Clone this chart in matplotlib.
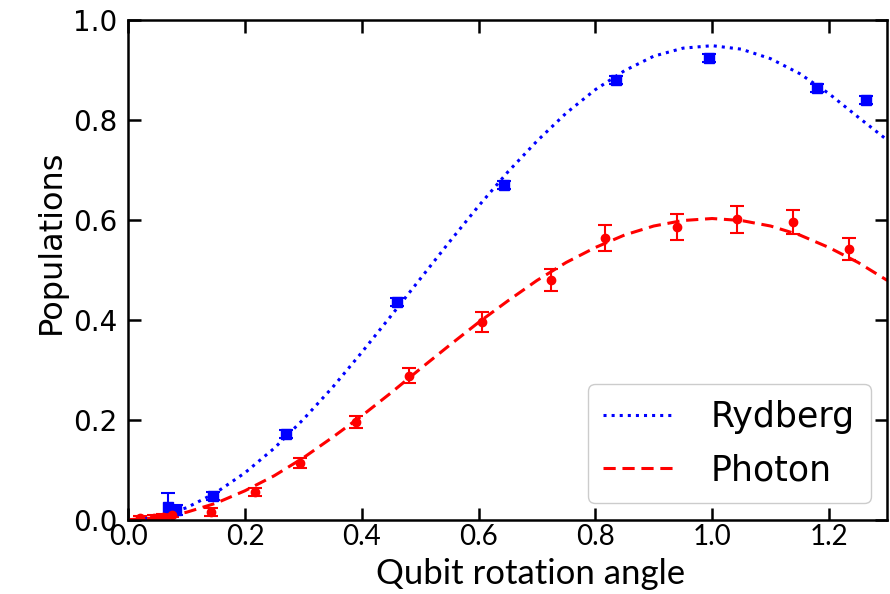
import matplotlib
matplotlib.use("Agg")
import matplotlib.pyplot as plt
import numpy as np

ryd_x = [0.068, 0.082, 0.146, 0.271, 0.460, 0.644, 0.836, 0.994, 1.179, 1.264]
ryd_y = [0.026, 0.020, 0.048, 0.172, 0.435, 0.670, 0.880, 0.924, 0.864, 0.840]
ryd_err = [0.028, 0.010, 0.008, 0.008, 0.008, 0.008, 0.008, 0.008, 0.008, 0.008]

pho_x = [0.020, 0.045, 0.060, 0.075, 0.141, 0.218, 0.295, 0.391, 0.481, 0.606, 0.724, 0.817, 0.939, 1.042, 1.138, 1.234]
pho_y = [0.003, 0.004, 0.006, 0.010, 0.016, 0.056, 0.114, 0.196, 0.288, 0.396, 0.480, 0.564, 0.586, 0.602, 0.596, 0.542]
pho_err = [0.004, 0.005, 0.005, 0.005, 0.008, 0.008, 0.010, 0.012, 0.015, 0.020, 0.022, 0.026, 0.026, 0.027, 0.024, 0.023]

# fitted curves sampled from the figure
fit_x = [0.00, 0.05, 0.10, 0.15, 0.20, 0.25, 0.30, 0.35, 0.40, 0.45, 0.50, 0.55, 0.60,
         0.65, 0.70, 0.75, 0.80, 0.85, 0.90, 0.95, 1.00, 1.05, 1.10, 1.15, 1.20, 1.25, 1.30]
ryd_fit = [0.000, 0.006, 0.024, 0.054, 0.094, 0.143, 0.201, 0.265, 0.335, 0.408, 0.482,
           0.556, 0.628, 0.696, 0.758, 0.814, 0.861, 0.899, 0.928, 0.944, 0.949, 0.942,
           0.923, 0.893, 0.853, 0.806, 0.760]
pho_fit = [0.000, 0.004, 0.015, 0.033, 0.058, 0.088, 0.124, 0.165, 0.208, 0.254, 0.302,
           0.349, 0.395, 0.438, 0.479, 0.515, 0.545, 0.570, 0.588, 0.599, 0.603, 0.599,
           0.588, 0.570, 0.545, 0.515, 0.479]

fig = plt.figure(figsize=(8.9, 5.94), dpi=100)
ax = fig.add_axes([0.144, 0.125, 0.853, 0.841])

ax.plot(fit_x, ryd_fit, ":", color="#0000ff", lw=2.2, label="Rydberg")
ax.plot(fit_x, pho_fit, "--", color="#ff0000", lw=2.2, dashes=(4, 2.2), label="Photon")

ax.errorbar(ryd_x, ryd_y, yerr=ryd_err, fmt="s", color="#0000ff", ms=7,
            capsize=5, elinewidth=1.5, capthick=1.5)
ax.errorbar(pho_x, pho_y, yerr=pho_err, fmt="o", color="#ff0000", ms=6,
            capsize=5, elinewidth=1.5, capthick=1.5)

ax.set_xlim(0, 1.3)
ax.set_ylim(0, 1.0)
ax.set_xticks([0.0, 0.2, 0.4, 0.6, 0.8, 1.0, 1.2])
ax.set_yticks([0.0, 0.2, 0.4, 0.6, 0.8, 1.0])
ax.set_yticklabels(["0.0", "0.2", "0.4", "0.6", "0.8", "1.0"])
ax.set_xticklabels(["0.0", "0.2", "0.4", "0.6", "0.8", "1.0", "1.2"],
                   family="Lato", fontsize=23)
ax.tick_params(direction="in", top=True, right=True, length=9, width=1.8,
               labelsize=20, pad=8)
ax.tick_params(axis="x", pad=3)
for s in ax.spines.values():
    s.set_linewidth(1.8)

ax.set_ylabel("Populations", fontsize=23, labelpad=4)
ax.yaxis.label.set_y(0.556)
ax.set_xlabel("Qubit rotation angle", family="Lato", fontsize=25, labelpad=6)
ax.xaxis.label.set_x(0.53)

ax.legend(loc="lower right", fontsize=25, handlelength=2.0, borderpad=0.45,
          labelspacing=0.55, handletextpad=1.1, framealpha=1,
          borderaxespad=0, bbox_to_anchor=(0.978, 0.034))

fig.savefig("out.png", dpi=100)
